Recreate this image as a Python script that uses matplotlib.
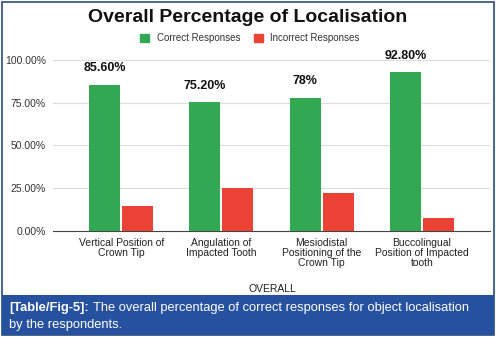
import matplotlib
matplotlib.use("Agg")
import matplotlib.pyplot as plt
from matplotlib.patches import Rectangle, Patch
import numpy as np

plt.rcParams['font.family'] = ['Liberation Sans', 'DejaVu Sans']

# data
categories = ["Vertical Position of\nCrown Tip", "Angulation of\nImpacted Tooth",
              "Mesiodistal\nPositioning of the\nCrown Tip", "Buccolingual\nPosition of Impacted\ntooth"]
correct = [85.6, 75.2, 78.0, 92.8]
incorrect = [14.4, 24.8, 22.0, 7.2]
correct_labels = ["85.60%", "75.20%", "78%", "92.80%"]
yticks = [0, 25, 50, 75, 100]
ytick_labels = ["0.00%", "25.00%", "50.00%", "75.00%", "100.00%"]

W, H = 496, 338
fig = plt.figure(figsize=(W / 100, H / 100), dpi=100)

def fx(px):
    return px / W

def fy(py):
    return 1 - py / H

green = '#33a852'
red = '#ea4335'
navy = '#26519e'

# frame and caption box
fig.patches.append(Rectangle((fx(2), fy(335)), fx(492), (333) / H, transform=fig.transFigure,
                             fill=False, edgecolor='#2b4a78', linewidth=1.2))
fig.patches.append(Rectangle((fx(2), fy(335)), fx(492), 40 / H, transform=fig.transFigure,
                             facecolor=navy, edgecolor='none'))

ax = fig.add_axes([fx(53), fy(230.7), fx(437), (230.7 - 60) / H])
x = np.arange(len(categories))
w = 0.31
ax.bar(x - 0.165, correct, w, color=green, zorder=3)
ax.bar(x + 0.165, incorrect, w, color=red, zorder=3)

for xi, v, lab in zip(x, correct, correct_labels):
    ax.annotate(lab, (xi - 0.165, v), xytext=(0, 12), textcoords='offset points',
                ha='center', va='center', fontsize=9, fontweight='bold', color='#111111',
                annotation_clip=False)

ax.set_xlim(-0.68, 3.68)
ax.set_ylim(0, 100)
ax.set_yticks(yticks)
ax.set_yticklabels(ytick_labels, fontsize=7.5, color='#333333')
ax.set_xticks(x)
ax.set_xticklabels(categories, fontsize=7.5, color='#222222', linespacing=0.95)
ax.tick_params(axis='both', length=0)
ax.tick_params(axis='y', pad=5)
ax.tick_params(axis='x', pad=5.5)
ax.grid(axis='y', color='#dddddd', linewidth=0.8, zorder=0)
for s in ['top', 'right', 'left']:
    ax.spines[s].set_visible(False)
ax.spines['bottom'].set_color('#444444')
ax.spines['bottom'].set_linewidth(0.8)

fig.text(fx(272), fy(289), "OVERALL", ha='center', va='center', fontsize=7.5, color='#222222')

fig.text(0.5, fy(17), "Overall Percentage of Localisation", ha='center', va='center',
         fontsize=14, fontweight='bold', color='#111111')

handles = [Patch(color=green, label="Correct Responses"), Patch(color=red, label="Incorrect Responses")]
fig.legend(handles=handles, loc='center', bbox_to_anchor=(fx(250), fy(38)), ncol=2, frameon=False,
           fontsize=7, handlelength=0.9, handleheight=0.9, handletextpad=0.8, columnspacing=1.4,
           labelcolor='#333333')

# caption
renderer = fig.canvas.get_renderer()
t1 = fig.text(fx(9), fy(308), "[Table/Fig-5]:", ha='left', va='center', fontsize=9.3,
              fontweight='bold', color='white')
bb = t1.get_window_extent(renderer)
fig.text(bb.x1 / W + fx(4), fy(308), "The overall percentage of correct responses for object localisation",
         ha='left', va='center', fontsize=9.3, color='white')
fig.text(fx(9), fy(325), "by the respondents.", ha='left', va='center', fontsize=9.3, color='white')

fig.savefig("out.png", dpi=100)
